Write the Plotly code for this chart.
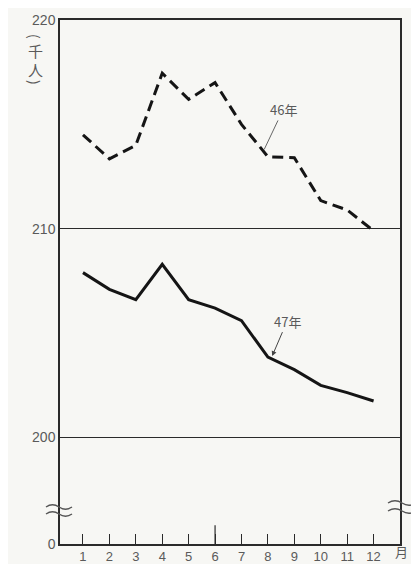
import plotly.graph_objects as go

months = list(range(1, 13))
month_labels = [str(m) for m in months]
y46 = [214.5, 213.35, 214.0, 217.45, 216.2, 217.0, 215.0, 213.45, 213.4, 211.35, 210.9, 209.9]
y47 = [207.9, 207.1, 206.6, 208.3, 206.6, 206.2, 205.6, 203.85, 203.25, 202.5, 202.15, 201.75]
y_ticks = [194.9, 200, 210, 220]
y_ticktext = ["0", "200", "210", "220"]
unit_chars = ["(", "千", "人", ")"]

BG = "#f7f7f4"
LINE = "#2a2a2a"
TXT = "#5a5a5a"
NUMFONT = "Liberation Sans, Arial, sans-serif"
JPFONT = "Noto Sans CJK JP"

# the page body adds an 8px offset; figure sized so plot area lands at x 60-400, y 20-544
OFF = 8
PL, PT, PW, PH = 60, 20, 340, 524


def px(X):
    return (X - PL) / PW


def py(Y):
    return 1 - (Y - PT) / PH


fig = go.Figure()
fig.add_trace(go.Scatter(x=months, y=y46, mode="lines", name="46年",
                         line=dict(color="#151515", width=3, dash="11px,6px")))
fig.add_trace(go.Scatter(x=months, y=y47, mode="lines", name="47年",
                         line=dict(color="#151515", width=3)))

fig.update_layout(
    width=419 - OFF, height=564 - OFF,
    margin=dict(l=PL - OFF, r=19, t=PT - OFF, b=20, autoexpand=False),
    paper_bgcolor=BG, plot_bgcolor=BG,
    showlegend=False,
    xaxis=dict(range=[0.13, 13.0], tickvals=months, ticktext=month_labels,
               ticks="inside", ticklen=10, tickwidth=1.2, tickcolor=LINE,
               showline=True, linecolor=LINE, linewidth=1.5, mirror=True,
               showgrid=False, zeroline=False, automargin=False, ticklabelstandoff=0,
               tickfont=dict(family=NUMFONT, size=13, color=TXT)),
    yaxis=dict(range=[194.9, 220], tickvals=y_ticks, ticktext=y_ticktext,
               ticks="", showline=True, linecolor=LINE, linewidth=1.5, mirror=True,
               showgrid=True, gridcolor=LINE, gridwidth=1.2, zeroline=False,
               automargin=False,
               tickfont=dict(family=NUMFONT, size=14, color=TXT)),
)

# longer middle tick at month 6
fig.add_shape(type="line", xref="x", yref="paper", x0=6, x1=6, y0=0, y1=0.036,
              line=dict(color=LINE, width=1.2))


# axis break marks (two wavy strokes each)
def wave(x0, x1, y, amp=4.5):
    xm = (x0 + x1) / 2
    return (f"M {px(x0)},{py(y)} Q {px((x0 + xm) / 2)},{py(y - amp)} {px(xm)},{py(y)} "
            f"T {px(x1)},{py(y)}")


for (x0, x1, ys) in [(46, 72, (507, 514)), (388, 416, (503, 511))]:
    for y in ys:
        fig.add_shape(type="path", xref="paper", yref="paper", path=wave(x0, x1, y),
                      line=dict(color="#555", width=1.4))

# month unit
fig.add_annotation(x=px(401), y=py(551), xref="paper", yref="paper", text="月",
                   showarrow=False, xanchor="center", yanchor="middle",
                   font=dict(size=13, color=TXT, family=JPFONT))

# y unit, stacked vertically (brackets rotated)
unit_Y = [36, 50, 70, 82]
unit_size = [14, 15, 15, 14]
unit_angle = [90, 0, 0, 90]
for ch, Y, s, a in zip(unit_chars, unit_Y, unit_size, unit_angle):
    fig.add_annotation(x=px(35), y=py(Y), xref="paper", yref="paper", text=ch,
                       showarrow=False, textangle=a, xanchor="center", yanchor="middle",
                       font=dict(size=s, color=TXT, family=JPFONT))

# series labels
fig.add_annotation(x=7.86, y=213.8, xref="x", yref="y", text="46年",
                   ax=19, ay=-40, arrowhead=0, arrowwidth=1, arrowcolor="#666",
                   font=dict(size=13, color=TXT, family=JPFONT))
fig.add_annotation(x=8.16, y=203.9, xref="x", yref="y", text="47年",
                   ax=15, ay=-35, arrowhead=2, arrowsize=1, arrowwidth=1, arrowcolor="#444",
                   font=dict(size=13, color=TXT, family=JPFONT))

fig.write_html("out.html")
